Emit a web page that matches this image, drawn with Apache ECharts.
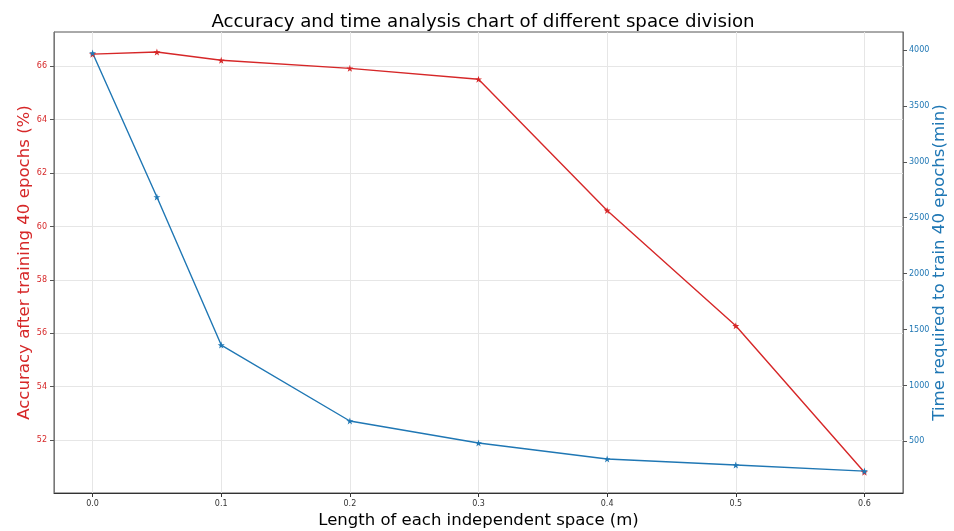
<!DOCTYPE html>
<html>
<head>
<meta charset="utf-8">
<script src="https://cdn.jsdelivr.net/npm/echarts@6/dist/echarts.min.js"></script>
<style>html,body{margin:0;padding:0;background:#fff;}#chart{width:954px;height:531px;}</style>
</head>
<body>
<div id="chart"></div>
<script>
const xValues = [0.0, 0.05, 0.1, 0.2, 0.3, 0.4, 0.5, 0.6];
const accuracy = [66.45, 66.53, 66.22, 65.92, 65.51, 60.6, 56.28, 50.8];
const timeMin = [3973, 2685, 1361, 682, 485, 342, 288, 234];
const xTicks = [0.0, 0.1, 0.2, 0.3, 0.4, 0.5, 0.6];
const leftTicks = [52, 54, 56, 58, 60, 62, 64, 66];
const rightTicks = [500, 1000, 1500, 2000, 2500, 3000, 3500, 4000];

const RED = '#d62728', BLUE = '#1f77b4';
const star = 'path://M50,0 L61.8,35.4 L99,35.4 L69,57.3 L80.4,92.7 L50,70.8 L19.6,92.7 L31,57.3 L1,35.4 L38.2,35.4 Z';
const font = 'DejaVu Sans';

const chart = echarts.init(document.getElementById('chart'), null, {renderer: 'canvas'});
chart.setOption({
  animation: false,
  backgroundColor: '#fff',
  title: {
    text: 'Accuracy and time analysis chart of different space division',
    left: 478, top: 8, textAlign: 'center',
    textStyle: {fontFamily: font, fontSize: 18.2, fontWeight: 'normal', color: '#000'}
  },
  grid: {left: 54, right: 51, top: 32, bottom: 38, show: true, borderColor: '#555', borderWidth: 1,
         containLabel: false, outerBoundsMode: 'none'},
  xAxis: {
    type: 'value', min: -0.03, max: 0.63,
    name: 'Length of each independent space (m)', nameLocation: 'middle', nameGap: 19, nameMoveOverlap: false,
    nameTextStyle: {fontFamily: font, fontSize: 16.5, color: '#000'},
    axisLine: {show: true, onZero: false, lineStyle: {color: '#333'}},
    axisTick: {show: true, length: 4, lineStyle: {color: '#333'}, customValues: xTicks},
    axisLabel: {fontFamily: font, fontSize: 8, color: '#333', margin: 7, customValues: xTicks, formatter: v => v.toFixed(1)},
    splitLine: {show: true, lineStyle: {color: '#e6e6e6', width: 1}}
  },
  yAxis: [{
    type: 'value', min: 50.02, max: 67.28, position: 'left',
    name: 'Accuracy after training 40 epochs (%)', nameLocation: 'middle', nameGap: 21, nameMoveOverlap: false,
    nameTextStyle: {fontFamily: font, fontSize: 16.6, color: RED},
    axisLine: {show: true, onZero: false, lineStyle: {color: '#777'}},
    axisTick: {show: true, length: 4, lineStyle: {color: '#555'}, customValues: leftTicks},
    axisLabel: {fontFamily: font, fontSize: 8, color: RED, margin: 7, customValues: leftTicks, formatter: v => String(v)},
    splitLine: {show: true, lineStyle: {color: '#e6e6e6', width: 1}}
  }, {
    type: 'value', min: 38, max: 4161, position: 'right',
    name: 'Time required to train 40 epochs(min)', nameLocation: 'middle', nameGap: 28, nameMoveOverlap: false,
    nameTextStyle: {fontFamily: font, fontSize: 16.6, color: BLUE},
    axisLine: {show: true, onZero: false, lineStyle: {color: '#777'}},
    axisTick: {show: true, length: 4, lineStyle: {color: '#555'}, customValues: rightTicks},
    axisLabel: {fontFamily: font, fontSize: 8, color: BLUE, margin: 6, customValues: rightTicks, formatter: v => String(v)},
    splitLine: {show: false}
  }],
  series: [{
    type: 'line', yAxisIndex: 0,
    data: xValues.map((x, i) => [x, accuracy[i]]),
    lineStyle: {color: RED, width: 1.4}, itemStyle: {color: RED},
    symbol: star, symbolSize: 7, showSymbol: true
  }, {
    type: 'line', yAxisIndex: 1,
    data: xValues.map((x, i) => [x, timeMin[i]]),
    lineStyle: {color: BLUE, width: 1.4}, itemStyle: {color: BLUE},
    symbol: star, symbolSize: 7, showSymbol: true
  }]
});
</script>
</body>
</html>
